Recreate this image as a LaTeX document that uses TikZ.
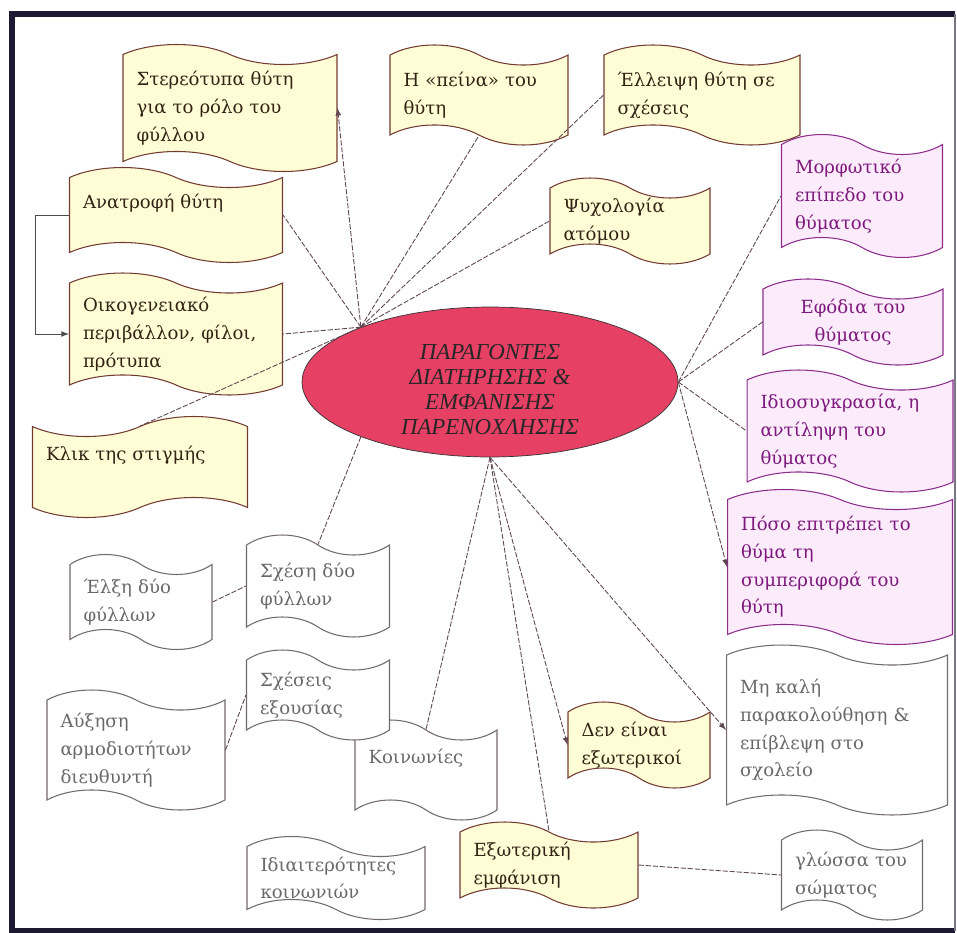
\documentclass[tikz,border=0pt]{standalone}
\usepackage{fontspec}
\setmainfont{DejaVu Serif}
\newfontfamily\ellfont{Liberation Serif}
\usetikzlibrary{shapes.symbols,shapes.geometric,calc}

\definecolor{ylwfill}{RGB}{255,253,213}
\definecolor{ylwdraw}{RGB}{115,60,50}
\definecolor{ylwtext}{RGB}{50,35,20}
\definecolor{pnkfill}{RGB}{251,235,251}
\definecolor{pnkdraw}{RGB}{140,45,140}
\definecolor{pnktext}{RGB}{125,25,125}
\definecolor{whtdraw}{RGB}{115,105,115}
\definecolor{whttext}{RGB}{105,105,105}
\definecolor{ellfill}{RGB}{230,64,100}
\definecolor{linkcol}{RGB}{95,70,80}
\definecolor{framecol}{RGB}{30,25,50}

\begin{document}
\begin{tikzpicture}[x=0.02cm, y=-0.02cm,
    flag/.style={tape, tape bend top=out and in, tape bend bottom=out and in,
      tape bend height=0.4cm, inner xsep=0.27cm, inner ysep=0pt, align=left,
      line width=0.6pt, font=\fontsize{10.3}{15.8}\selectfont},
    box/.style 2 args={minimum width=#1cm, minimum height=#2cm, text width=#1cm-0.54cm},
    ylw/.style={flag, fill=ylwfill, draw=ylwdraw, text=ylwtext},
    pnk/.style={flag, fill=pnkfill, draw=pnkdraw, text=pnktext},
    wht/.style={flag, fill=white, draw=whtdraw, text=whttext},
    link/.style={draw=linkcol, line width=0.5pt, dash pattern=on 3pt off 1pt}]
  \useasboundingbox (0,0) rectangle (957,933);
  % 外枠
  \draw[framecol, line width=3pt] (955,931) -- (12,931) -- (12,14) -- (955,14);
  \draw[framecol!60, line width=0.6pt] (955,14) -- (955,931);

  % 中央の楕円
  \node[ellipse, draw=black!80, fill=ellfill, minimum width=7.52cm, minimum height=3cm,
    inner sep=0pt, align=center, text=black!85,
    font=\ellfont\itshape\fontsize{13}{14.2}\selectfont] (ell) at (490,382)
    {\rule{0pt}{17.5pt}ΠΑΡΑΓΟΝΤΕΣ\\ΔΙΑΤΗΡΗΣΗΣ \&\\ΕΜΦΑΝΙΣΗΣ\\ΠΑΡΕΝΟΧΛΗΣΗΣ};

  % 黄色の枠
  \node[ylw, box={4.28}{2.54}] (ster) at (230,108) {Στερεότυπα θύτη\\για το ρόλο του\\φύλλου};
  \node[ylw, box={3.56}{2.0}] (peina) at (479,95) {Η «πείνα» του\\θύτη};
  \node[ylw, box={3.92}{2.0}] (elleipsi) at (702,95) {Έλλειψη θύτη σε\\σχέσεις};
  \node[ylw, box={3.2}{1.64}] (psyx) at (630,221) {Ψυχολογία\\ατόμου};
  \node[ylw, box={4.26}{1.9}] (anat) at (176,215) {Ανατροφή θύτη\\\mbox{}};
  \node[ylw, box={4.26}{2.44}] (oikog) at (176,334) {Οικογενειακό\\περιβάλλον, φίλοι,\\πρότυπα};
  \node[ylw, box={4.3}{2.02}, tape bend top=in and out, tape bend bottom=in and out]
    (klik) at (140,467) {Κλικ της στιγμής\\\mbox{}};

  % ピンクの枠
  \node[pnk, box={3.22}{2.46}] (morf) at (862,196) {Μορφωτικό\\επίπεδο του\\θύματος};
  \node[pnk, box={3.6}{1.58}, align=center] (efod) at (853,322) {Εφόδια του\\θύματος};
  \node[pnk, box={4.12}{2.44}] (idio) at (850,431) {Ιδιοσυγκρασία, η\\αντίληψη του\\θύματος};
  \node[pnk, box={4.5}{3.1}] (poso) at (840,567) {Πόσο επιτρέπει το\\θύμα τη\\συμπεριφορά του\\θύτη};

  % 白い枠
  \node[wht, box={4.42}{3.4}] (mi) at (837,730) {Μη καλή\\παρακολούθηση \&\\επίβλεψη στο\\σχολείο};
  \node[wht, box={2.82}{1.8}] (glossa) at (852,875) {γλώσσα του\\σώματος};
  \node[wht, box={2.84}{2.0}] (koin) at (426,770) {Κοινωνίες\\\mbox{}};
  \node[wht, box={2.86}{2.04}] (sxesi) at (318,586) {Σχέση δύο\\φύλλων};
  \node[wht, box={2.86}{1.8}] (exous) at (318,695) {Σχέσεις\\εξουσίας};
  \node[wht, box={2.84}{1.9}] (elxi) at (141,602) {Έλξη δύο\\φύλλων};
  \node[wht, box={3.56}{2.4}] (afxisi) at (136,750) {Αύξηση\\αρμοδιοτήτων\\διευθυντή};
  \node[wht, box={3.56}{1.66}] (idiait) at (336,878) {Ιδιαιτερότητες\\κοινωνιών};
  \node[ylw, box={2.84}{1.6}] (den) at (639,745) {Δεν είναι\\εξωτερικοί};
  \node[ylw, box={3.56}{1.72}] (exot) at (549,865) {Εξωτερική\\εμφάνιση};

  % 接続線
  \coordinate (hubl) at (ell.157);
  \coordinate (hubb) at (ell.south);
  \coordinate (hubr) at (ell.east);
  \draw[link, -latex] (hubl) -- (ster.east);
  \foreach \n in {peina.south, elleipsi.west, psyx.west, anat.east, oikog.east, klik.north}
    \draw[link] (hubl) -- (\n);
  \draw[link] (hubb) -- (koin.north);
  \draw[link] (hubb) -- (exot.north);
  \draw[link, -latex] (hubb) -- (den.west);
  \draw[link, -latex] (hubb) -- (mi.west);
  \foreach \n in {morf, efod, idio}
    \draw[link] (hubr) -- (\n.west);
  \draw[link, -latex] (hubr) -- (poso.west);
  \draw[link] (ell.203) -- (sxesi.north);
  \draw[link] (elxi.east) -- (sxesi.west);
  \draw[link] (afxisi.east) -- (exous.west);
  \draw[link] (exot.east) -- (glossa.west);
  \draw[black!70, line width=0.5pt, -latex] (anat.west) -- (35,215) |- (oikog.west);
\end{tikzpicture}
\end{document}
